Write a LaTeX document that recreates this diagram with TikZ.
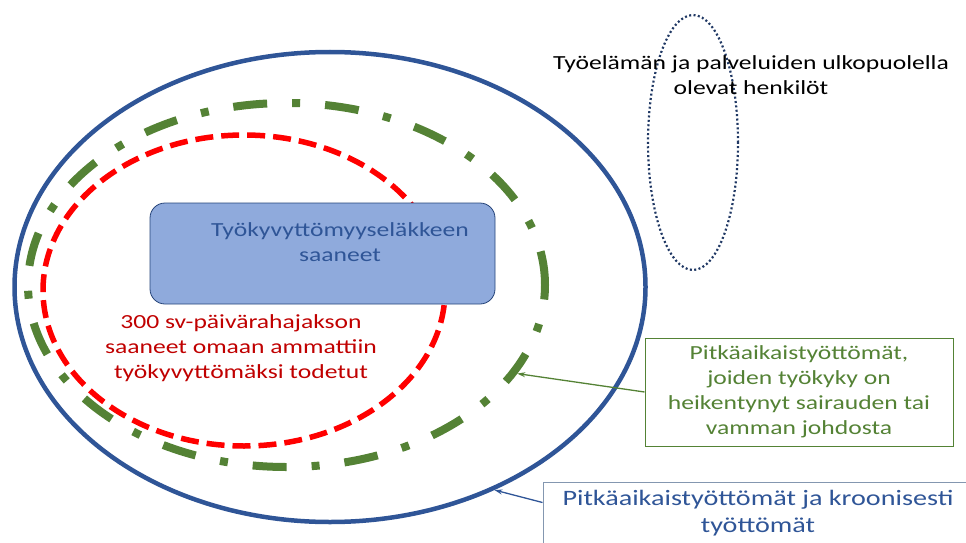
\documentclass[tikz,border=0pt]{standalone}
\usepackage{fontspec}
\setmainfont{Carlito}[FakeStretch=1.28]
\usetikzlibrary{arrows.meta,positioning,shapes.geometric}
\definecolor{ringblue}{HTML}{2F5597}
\definecolor{ringgreen}{HTML}{548235}
\definecolor{ringred}{HTML}{FF0000}
\definecolor{textred}{HTML}{C00000}
\definecolor{boxfill}{HTML}{8FAADC}
\definecolor{dotblue}{HTML}{203864}
\definecolor{boxgray}{HTML}{8497B0}

\begin{document}
\begin{tikzpicture}[x=1pt,y=-1pt,
  ring/.style={ellipse,inner sep=0pt},
  lbl/.style={align=center,font=\fontsize{20}{25}\selectfont},
  gline/.style={draw=ringgreen,line width=1.3pt,-{Stealth[length=8pt,width=5pt]}},
  bline/.style={draw=ringblue,line width=1.3pt,-{Stealth[length=8pt,width=5pt]}}]
\useasboundingbox (0,0) rectangle (966,543);
% nested groups
\node[ring,draw=ringblue,line width=4.5pt,minimum width=631pt,minimum height=470pt] (kroonisesti) at (330,287) {};
\node[ring,draw=ringgreen,line width=8pt,dash pattern=on 34pt off 25pt on 8pt off 25pt,
  minimum width=517pt,minimum height=364pt] (tyokyky) at (286.5,285) {};
\node[ring,draw=ringred,line width=5.5pt,dash pattern=on 18pt off 8pt,
  minimum width=402pt,minimum height=311pt] (svraha) at (244,290.5) {};
\node[draw=ringblue!80!black,fill=boxfill,rounded corners=15pt,line width=0.8pt,
  minimum width=345pt,minimum height=101pt] (elake) at (322.5,253.5) {};
\node[lbl,text=ringblue] (elaketxt) at (340,242) {Työkyvyttömyyseläkkeen\\saaneet};
\node[lbl,text=textred] (svtxt) at (241,348) {300 sv-päivärahajakson\\saaneet omaan ammattiin\\työkyvyttömäksi todetut};
% outside
\node[ring,draw=dotblue,line width=2.2pt,dash pattern=on 2pt off 2.4pt,
  minimum width=90pt,minimum height=255pt] (ulko) at (693,142.5) {};
\node[lbl] (ulkotxt) at (751,75.5) {Työelämän ja palveluiden ulkopuolella\\olevat henkilöt};
% callouts
\node[lbl,draw=ringgreen,text=ringgreen,line width=1pt,minimum width=308pt,minimum height=108pt] (gbox) at (799,392)
  {Pitkäaikaistyöttömät,\\joiden työkyky on\\heikentynyt sairauden tai\\vamman johdosta};
\node[lbl,draw=boxgray,text=ringblue,line width=1pt,font=\fontsize{22}{27}\selectfont,minimum width=430pt,minimum height=63pt] (pbox) at (758,513.5)
  {Pitkäaikaistyöttömät ja kroonisesti\\työttömät};
\draw[gline] (gbox.west) -- (tyokyky.-21);
\draw[bline] ([yshift=11pt]pbox.west) -- (kroonisesti.-51);
\end{tikzpicture}
\end{document}
